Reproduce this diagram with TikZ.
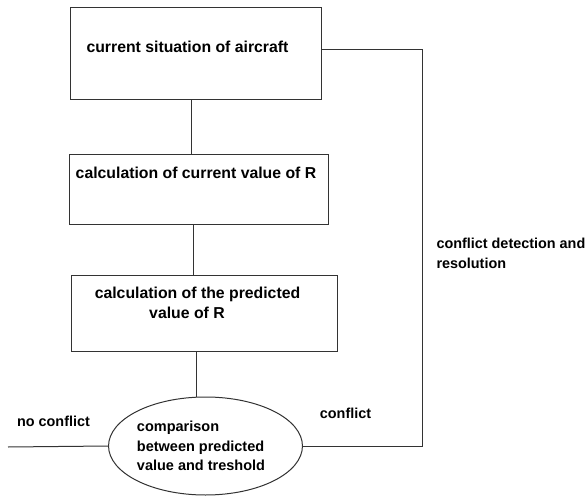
\documentclass[tikz,border=0pt]{standalone}
\usepackage{fontspec}
\setmainfont{Liberation Sans}
\usetikzlibrary{shapes.geometric, positioning}
\tikzstyle{block}=[draw=black!80,rectangle,inner sep=0pt]
\tikzstyle{decision}=[draw=black!80,ellipse,inner sep=0pt,align=left,minimum width=193pt,minimum height=98pt,font=\bfseries\fontsize{14.5}{19.5}\selectfont]
\tikzstyle{boxtext}=[inner sep=0pt,align=center,font=\bfseries\fontsize{15.8}{20}\selectfont]
\tikzstyle{tag}=[inner sep=0pt,align=left,font=\bfseries\fontsize{14.4}{20}\selectfont]
\tikzstyle{link}=[draw=black!80]

\begin{document}
\begin{tikzpicture}[x=1pt,y=-1pt,line width=1pt]
    \useasboundingbox (0,0) rectangle (586,497);
    % boxes
    \node[block, minimum width=251pt, minimum height=92pt] (situation) at (195.5,54) {};
    \node[block, minimum width=259pt, minimum height=69pt] (currentR) at (198.5,189.5) {};
    \node[block, minimum width=266pt, minimum height=76pt] (predicted) at (204,313) {};
    \node[decision] (compare) at (205.5,446) {comparison\\between predicted\\value and treshold\hspace*{9pt}};
    % box texts
    \node[boxtext, anchor=base] (situationtxt) at (187.5,52.5) {current situation of aircraft};
    \node[boxtext, anchor=base] (currentRtxt) at (196,178.5) {calculation of current value of R};
    \node[boxtext, anchor=north] (predictedtxt) at (197.5,287) {calculation of the predicted\\value of R\hspace*{21pt}};
    % labels
    \node[tag, anchor=base] (noconf) at (53.5,426) {no conflict};
    \node[tag, anchor=base] (conf) at (345.5,418) {conflict};
    \node[tag, anchor=north west] (cdr) at (436,237.5) {conflict detection and\\resolution};
    \coordinate (noend) at (8,447);
    \coordinate (corner) at (422,446);
    % connectors
    \draw[link] ([xshift=-4.5pt]situation.south) -- ([xshift=-4.5pt]situation.south |- currentR.north);
    \draw[link] ([xshift=-5.5pt]currentR.south) -- ([xshift=-5.5pt]currentR.south |- predicted.north);
    \draw[link] ([xshift=-8pt]predicted.south) -- ([xshift=-8pt]predicted.south |- compare.north);
    \draw[link] (compare.west) -- (noend);
    \draw[link] (compare.east) -- (corner) |- ([yshift=4pt]situation.east);
\end{tikzpicture}
\end{document}
